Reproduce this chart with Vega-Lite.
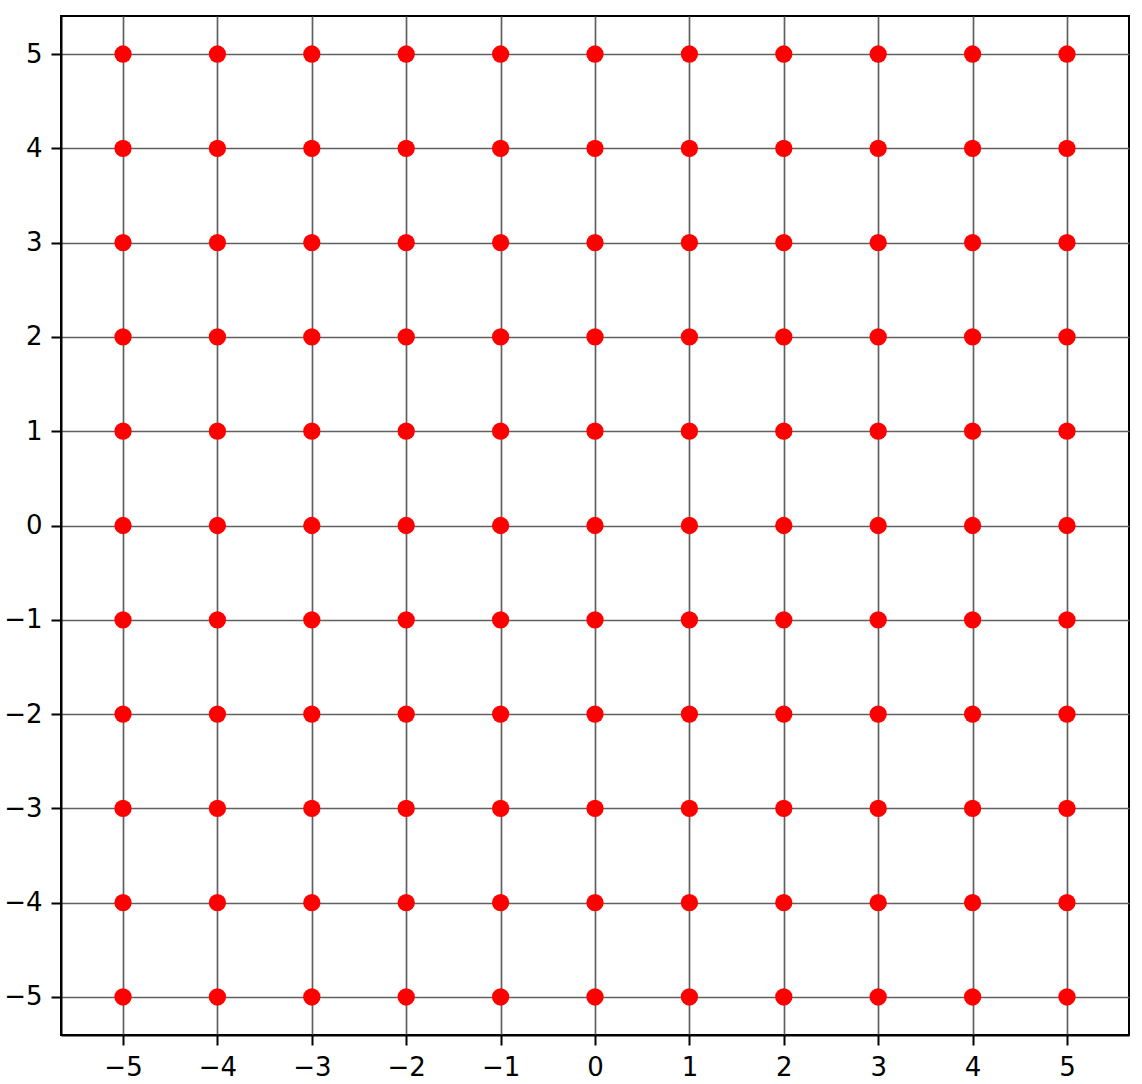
{
  "$schema": "https://vega.github.io/schema/vega-lite/v6.json",
  "autosize": {"type": "none"},
  "width": 1068,
  "height": 1019,
  "padding": {"left": 61, "top": 16, "right": 13, "bottom": 49},
  "background": "white",
  "config": {
    "view": {"stroke": "black", "strokeWidth": 2},
    "axis": {
      "labelFont": "DejaVu Sans",
      "labelFontSize": 26,
      "labelColor": "black",
      "tickColor": "black",
      "tickWidth": 2,
      "tickSize": 10,
      "domainColor": "black",
      "domainWidth": 2,
      "grid": true,
      "gridColor": "#606060",
      "gridWidth": 1.7,
      "gridOpacity": 1,
      "title": null
    }
  },
  "data": {"values": [
    {"x":-5,"y":-5},{"x":-5,"y":-4},{"x":-5,"y":-3},{"x":-5,"y":-2},{"x":-5,"y":-1},{"x":-5,"y":0},{"x":-5,"y":1},{"x":-5,"y":2},{"x":-5,"y":3},{"x":-5,"y":4},{"x":-5,"y":5},
    {"x":-4,"y":-5},{"x":-4,"y":-4},{"x":-4,"y":-3},{"x":-4,"y":-2},{"x":-4,"y":-1},{"x":-4,"y":0},{"x":-4,"y":1},{"x":-4,"y":2},{"x":-4,"y":3},{"x":-4,"y":4},{"x":-4,"y":5},
    {"x":-3,"y":-5},{"x":-3,"y":-4},{"x":-3,"y":-3},{"x":-3,"y":-2},{"x":-3,"y":-1},{"x":-3,"y":0},{"x":-3,"y":1},{"x":-3,"y":2},{"x":-3,"y":3},{"x":-3,"y":4},{"x":-3,"y":5},
    {"x":-2,"y":-5},{"x":-2,"y":-4},{"x":-2,"y":-3},{"x":-2,"y":-2},{"x":-2,"y":-1},{"x":-2,"y":0},{"x":-2,"y":1},{"x":-2,"y":2},{"x":-2,"y":3},{"x":-2,"y":4},{"x":-2,"y":5},
    {"x":-1,"y":-5},{"x":-1,"y":-4},{"x":-1,"y":-3},{"x":-1,"y":-2},{"x":-1,"y":-1},{"x":-1,"y":0},{"x":-1,"y":1},{"x":-1,"y":2},{"x":-1,"y":3},{"x":-1,"y":4},{"x":-1,"y":5},
    {"x":0,"y":-5},{"x":0,"y":-4},{"x":0,"y":-3},{"x":0,"y":-2},{"x":0,"y":-1},{"x":0,"y":0},{"x":0,"y":1},{"x":0,"y":2},{"x":0,"y":3},{"x":0,"y":4},{"x":0,"y":5},
    {"x":1,"y":-5},{"x":1,"y":-4},{"x":1,"y":-3},{"x":1,"y":-2},{"x":1,"y":-1},{"x":1,"y":0},{"x":1,"y":1},{"x":1,"y":2},{"x":1,"y":3},{"x":1,"y":4},{"x":1,"y":5},
    {"x":2,"y":-5},{"x":2,"y":-4},{"x":2,"y":-3},{"x":2,"y":-2},{"x":2,"y":-1},{"x":2,"y":0},{"x":2,"y":1},{"x":2,"y":2},{"x":2,"y":3},{"x":2,"y":4},{"x":2,"y":5},
    {"x":3,"y":-5},{"x":3,"y":-4},{"x":3,"y":-3},{"x":3,"y":-2},{"x":3,"y":-1},{"x":3,"y":0},{"x":3,"y":1},{"x":3,"y":2},{"x":3,"y":3},{"x":3,"y":4},{"x":3,"y":5},
    {"x":4,"y":-5},{"x":4,"y":-4},{"x":4,"y":-3},{"x":4,"y":-2},{"x":4,"y":-1},{"x":4,"y":0},{"x":4,"y":1},{"x":4,"y":2},{"x":4,"y":3},{"x":4,"y":4},{"x":4,"y":5},
    {"x":5,"y":-5},{"x":5,"y":-4},{"x":5,"y":-3},{"x":5,"y":-2},{"x":5,"y":-1},{"x":5,"y":0},{"x":5,"y":1},{"x":5,"y":2},{"x":5,"y":3},{"x":5,"y":4},{"x":5,"y":5}
  ]},
  "mark": {"type": "point", "filled": true, "shape": "circle", "size": 300, "color": "#ff0000", "opacity": 1},
  "encoding": {
    "x": {
      "field": "x", "type": "quantitative",
      "scale": {"domain": [-5.657, 5.657], "nice": false, "zero": false},
      "axis": {"values": [-5,-4,-3,-2,-1,0,1,2,3,4,5], "labelPadding": 9, "labelExpr": "replace(datum.label, '-', '\u2212')"}
    },
    "y": {
      "field": "y", "type": "quantitative",
      "scale": {"domain": [-5.403, 5.403], "nice": false, "zero": false},
      "axis": {"values": [-5,-4,-3,-2,-1,0,1,2,3,4,5], "labelPadding": 9, "labelExpr": "replace(datum.label, '-', '\u2212')"}
    }
  }
}
